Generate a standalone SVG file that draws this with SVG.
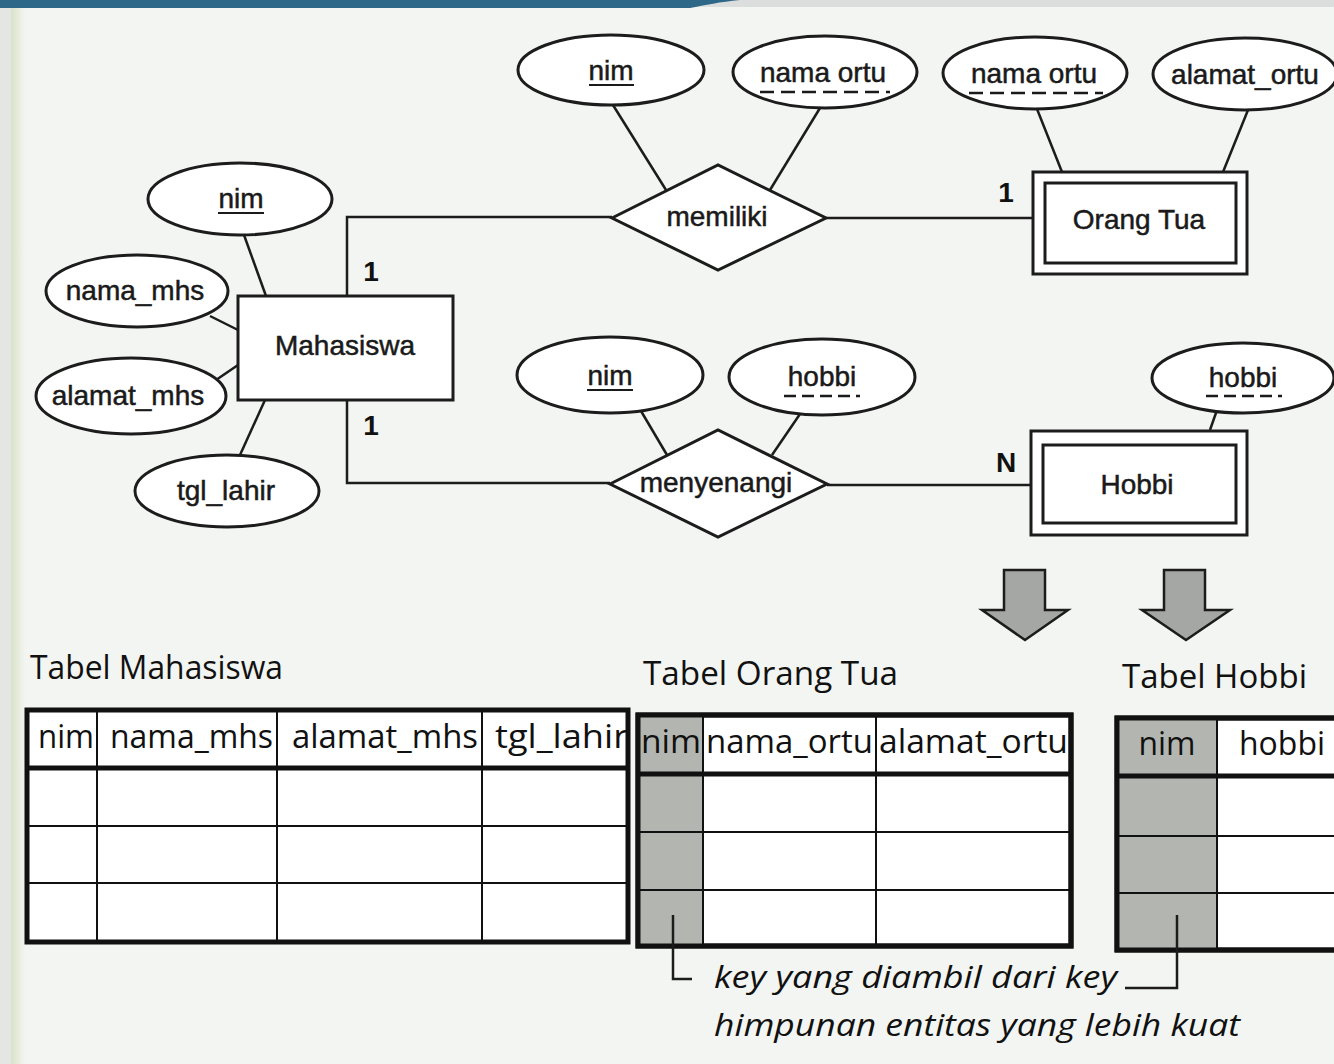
<svg xmlns="http://www.w3.org/2000/svg" width="1334" height="1064" viewBox="0 0 1334 1064">
<defs>
<style>
.ln{stroke:#1c1c1c;stroke-width:2.5;fill:none}
.sh{fill:#fff;stroke:#1c1c1c;stroke-width:3}
.er{font-family:"Liberation Sans",Arial,sans-serif;font-size:28px;fill:#1a1a1a;stroke:#1a1a1a;stroke-width:0.5;text-anchor:middle}
.num{font-family:"Liberation Sans",Arial,sans-serif;font-size:28px;font-weight:bold;fill:#111;text-anchor:middle}
.ul{stroke:#1a1a1a;stroke-width:2;fill:none}
.dl{stroke:#1a1a1a;stroke-width:2.5;fill:none;stroke-dasharray:14 7}
.tt{font-family:"Open Sans",sans-serif;font-size:33px;fill:#111}
.th{font-family:"Open Sans",sans-serif;font-size:32px;fill:#111}
.it{font-family:"Open Sans",sans-serif;font-size:31px;font-style:italic;fill:#111}
.tb{fill:#fff;stroke:#111;stroke-width:5}
.thk{stroke:#111;stroke-width:5}
.thn{stroke:#111;stroke-width:2}
.shade{fill:#b3b6b0}
.arr{fill:#a5a7a4;stroke:#1c1c1c;stroke-width:2.5}
</style>
<linearGradient id="lg" x1="0" y1="0" x2="1" y2="0">
<stop offset="0" stop-color="#d8e2c6"/>
<stop offset="1" stop-color="#f3f5f2"/>
</linearGradient>
</defs>
<rect x="0" y="0" width="1334" height="1064" fill="#f3f5f2"/>
<rect x="0" y="0" width="11" height="1064" fill="#e4e6e4"/>
<rect x="11" y="0" width="14" height="1064" fill="url(#lg)"/>
<rect x="0" y="0" width="1334" height="7" fill="#dcdedd"/>
<path d="M0,0 H740 C720,2 705,5 690,8 H0 Z" fill="#2e6889"/>

<g id="connectors">
<polyline class="ln" points="347,296 347,217 612,217"/>
<line class="ln" x1="826" y1="218" x2="1033" y2="218"/>
<polyline class="ln" points="347,400 347,483 610,483"/>
<line class="ln" x1="827" y1="485" x2="1031" y2="485"/>
<line class="ln" x1="613" y1="105" x2="666" y2="190"/>
<line class="ln" x1="820" y1="108" x2="770" y2="190"/>
<line class="ln" x1="1037" y1="109" x2="1062" y2="172"/>
<line class="ln" x1="1248" y1="110" x2="1223" y2="172"/>
<line class="ln" x1="244" y1="235" x2="266" y2="296"/>
<line class="ln" x1="210" y1="316" x2="238" y2="330"/>
<line class="ln" x1="216" y1="380" x2="238" y2="365"/>
<line class="ln" x1="240" y1="455" x2="265" y2="400"/>
<line class="ln" x1="641" y1="411" x2="667" y2="455"/>
<line class="ln" x1="800" y1="414" x2="772" y2="455"/>
<line class="ln" x1="1217" y1="410" x2="1210" y2="430"/>
<text class="num" x="371" y="281">1</text>
<text class="num" x="1006" y="202">1</text>
<text class="num" x="371" y="435">1</text>
<text class="num" x="1006" y="472">N</text>
</g>

<g id="attr-nim-top">
<ellipse class="sh" cx="611" cy="70" rx="93" ry="35"/>
<text class="er" x="611" y="80">nim</text>
<line class="ul" x1="589" y1="85" x2="634" y2="85"/>
</g>
<g id="attr-nama-ortu-1">
<ellipse class="sh" cx="825" cy="72" rx="92" ry="36"/>
<text class="er" x="823" y="82">nama ortu</text>
<line class="dl" x1="760" y1="92" x2="890" y2="92"/>
</g>
<g id="attr-nama-ortu-2">
<ellipse class="sh" cx="1035" cy="73" rx="92" ry="36"/>
<text class="er" x="1034" y="83">nama ortu</text>
<line class="dl" x1="969" y1="93" x2="1103" y2="93"/>
</g>
<g id="attr-alamat-ortu">
<ellipse class="sh" cx="1245" cy="74" rx="92" ry="36"/>
<text class="er" x="1245" y="84">alamat_ortu</text>
</g>
<g id="attr-nim-left">
<ellipse class="sh" cx="240" cy="199" rx="92" ry="36"/>
<text class="er" x="241" y="208">nim</text>
<line class="ul" x1="218" y1="213" x2="264" y2="213"/>
</g>
<g id="attr-nama-mhs">
<ellipse class="sh" cx="137" cy="291" rx="91" ry="36"/>
<text class="er" x="135" y="300">nama_mhs</text>
</g>
<g id="attr-alamat-mhs">
<ellipse class="sh" cx="131" cy="396" rx="95" ry="38"/>
<text class="er" x="128" y="405">alamat_mhs</text>
</g>
<g id="attr-tgl-lahir">
<ellipse class="sh" cx="227" cy="491" rx="92" ry="36"/>
<text class="er" x="226" y="500">tgl_lahir</text>
</g>
<g id="attr-nim-mid">
<ellipse class="sh" cx="610" cy="375" rx="93" ry="38"/>
<text class="er" x="610" y="385">nim</text>
<line class="ul" x1="587" y1="390" x2="633" y2="390"/>
</g>
<g id="attr-hobbi-mid">
<ellipse class="sh" cx="822" cy="377" rx="93" ry="38"/>
<text class="er" x="822" y="386">hobbi</text>
<line class="dl" x1="784" y1="396" x2="860" y2="396" style="stroke-dasharray:12 6"/>
</g>
<g id="attr-hobbi-right">
<ellipse class="sh" cx="1243" cy="378" rx="91" ry="35"/>
<text class="er" x="1243" y="387">hobbi</text>
<line class="dl" x1="1206" y1="396" x2="1282" y2="396" style="stroke-dasharray:12 6"/>
</g>

<g id="rel-memiliki">
<polygon class="sh" points="612,218 718,165 826,218 718,270"/>
<text class="er" x="717" y="226">memiliki</text>
</g>
<g id="rel-menyenangi">
<polygon class="sh" points="610,484 718,430 827,484 718,537"/>
<text class="er" x="716" y="492">menyenangi</text>
</g>

<g id="ent-mahasiswa">
<rect class="sh" x="238" y="296" width="215" height="104"/>
<text class="er" x="345" y="355">Mahasiswa</text>
</g>
<g id="ent-orang-tua">
<rect class="sh" x="1033" y="172" width="214" height="102"/>
<rect class="sh" x="1045" y="183" width="191" height="80"/>
<text class="er" x="1139" y="229">Orang Tua</text>
</g>
<g id="ent-hobbi">
<rect class="sh" x="1031" y="431" width="216" height="104"/>
<rect class="sh" x="1043" y="445" width="193" height="78"/>
<text class="er" x="1137" y="494">Hobbi</text>
</g>

<g id="arrow-1">
<polygon class="arr" points="1004,570 1045,570 1045,610 1068,610 1025,640 982,610 1004,610"/>
</g>
<g id="arrow-2">
<polygon class="arr" points="1164,570 1205,570 1205,610 1230,610 1186,640 1142,610 1164,610"/>
</g>

<g id="tabel-mahasiswa">
<text class="tt" x="30" y="679" textLength="253" lengthAdjust="spacingAndGlyphs">Tabel Mahasiswa</text>
<rect class="tb" x="27" y="710" width="601" height="232"/>
<line class="thk" x1="27" y1="768" x2="628" y2="768"/>
<line class="thn" x1="27" y1="826" x2="628" y2="826"/>
<line class="thn" x1="27" y1="883" x2="628" y2="883"/>
<line class="thn" x1="97" y1="710" x2="97" y2="942"/>
<line class="thn" x1="277" y1="710" x2="277" y2="942"/>
<line class="thn" x1="482" y1="710" x2="482" y2="942"/>
<text class="th" x="38" y="748" textLength="56" lengthAdjust="spacingAndGlyphs">nim</text>
<text class="th" x="110" y="748" textLength="163" lengthAdjust="spacingAndGlyphs">nama_mhs</text>
<text class="th" x="292" y="748" textLength="186" lengthAdjust="spacingAndGlyphs">alamat_mhs</text>
<text class="th" x="495" y="748" textLength="133" lengthAdjust="spacingAndGlyphs">tgl_lahir</text>
</g>

<g id="tabel-orang-tua">
<text class="tt" x="643" y="685" textLength="255" lengthAdjust="spacingAndGlyphs">Tabel Orang Tua</text>
<rect class="tb" x="638" y="715" width="433" height="231"/>
<rect class="shade" x="640" y="717" width="63" height="227"/>
<line class="thk" x1="638" y1="774" x2="1071" y2="774"/>
<line class="thn" x1="638" y1="832" x2="1071" y2="832"/>
<line class="thn" x1="638" y1="890" x2="1071" y2="890"/>
<line class="thn" x1="703" y1="715" x2="703" y2="946"/>
<line class="thn" x1="876" y1="715" x2="876" y2="946"/>
<rect x="638" y="715" width="433" height="231" fill="none" stroke="#111" stroke-width="5"/>
<text class="th" x="641" y="753" textLength="60" lengthAdjust="spacingAndGlyphs">nim</text>
<text class="th" x="706" y="753" textLength="167" lengthAdjust="spacingAndGlyphs">nama_ortu</text>
<text class="th" x="879" y="753" textLength="189" lengthAdjust="spacingAndGlyphs">alamat_ortu</text>
</g>

<g id="tabel-hobbi">
<text class="tt" x="1122" y="688" textLength="185" lengthAdjust="spacingAndGlyphs">Tabel Hobbi</text>
<rect class="tb" x="1117" y="718" width="240" height="232"/>
<rect class="shade" x="1119" y="720" width="98" height="228"/>
<line class="thk" x1="1117" y1="776" x2="1334" y2="776"/>
<line class="thn" x1="1117" y1="836" x2="1334" y2="836"/>
<line class="thn" x1="1117" y1="893" x2="1334" y2="893"/>
<line class="thn" x1="1217" y1="718" x2="1217" y2="950"/>
<rect x="1117" y="718" width="240" height="232" fill="none" stroke="#111" stroke-width="5"/>
<text class="th" x="1167" y="755" text-anchor="middle" textLength="57" lengthAdjust="spacingAndGlyphs">nim</text>
<text class="th" x="1282" y="755" text-anchor="middle" textLength="86" lengthAdjust="spacingAndGlyphs">hobbi</text>
</g>

<g id="catatan">
<polyline class="ln" points="673,915 673,979 692,979"/>
<polyline class="ln" points="1125,988 1177,988 1177,915"/>
<text class="it" x="714" y="988" textLength="403" lengthAdjust="spacingAndGlyphs">key yang diambil dari key</text>
<text class="it" x="714" y="1036" textLength="526" lengthAdjust="spacingAndGlyphs">himpunan entitas yang lebih kuat</text>
</g>
</svg>
